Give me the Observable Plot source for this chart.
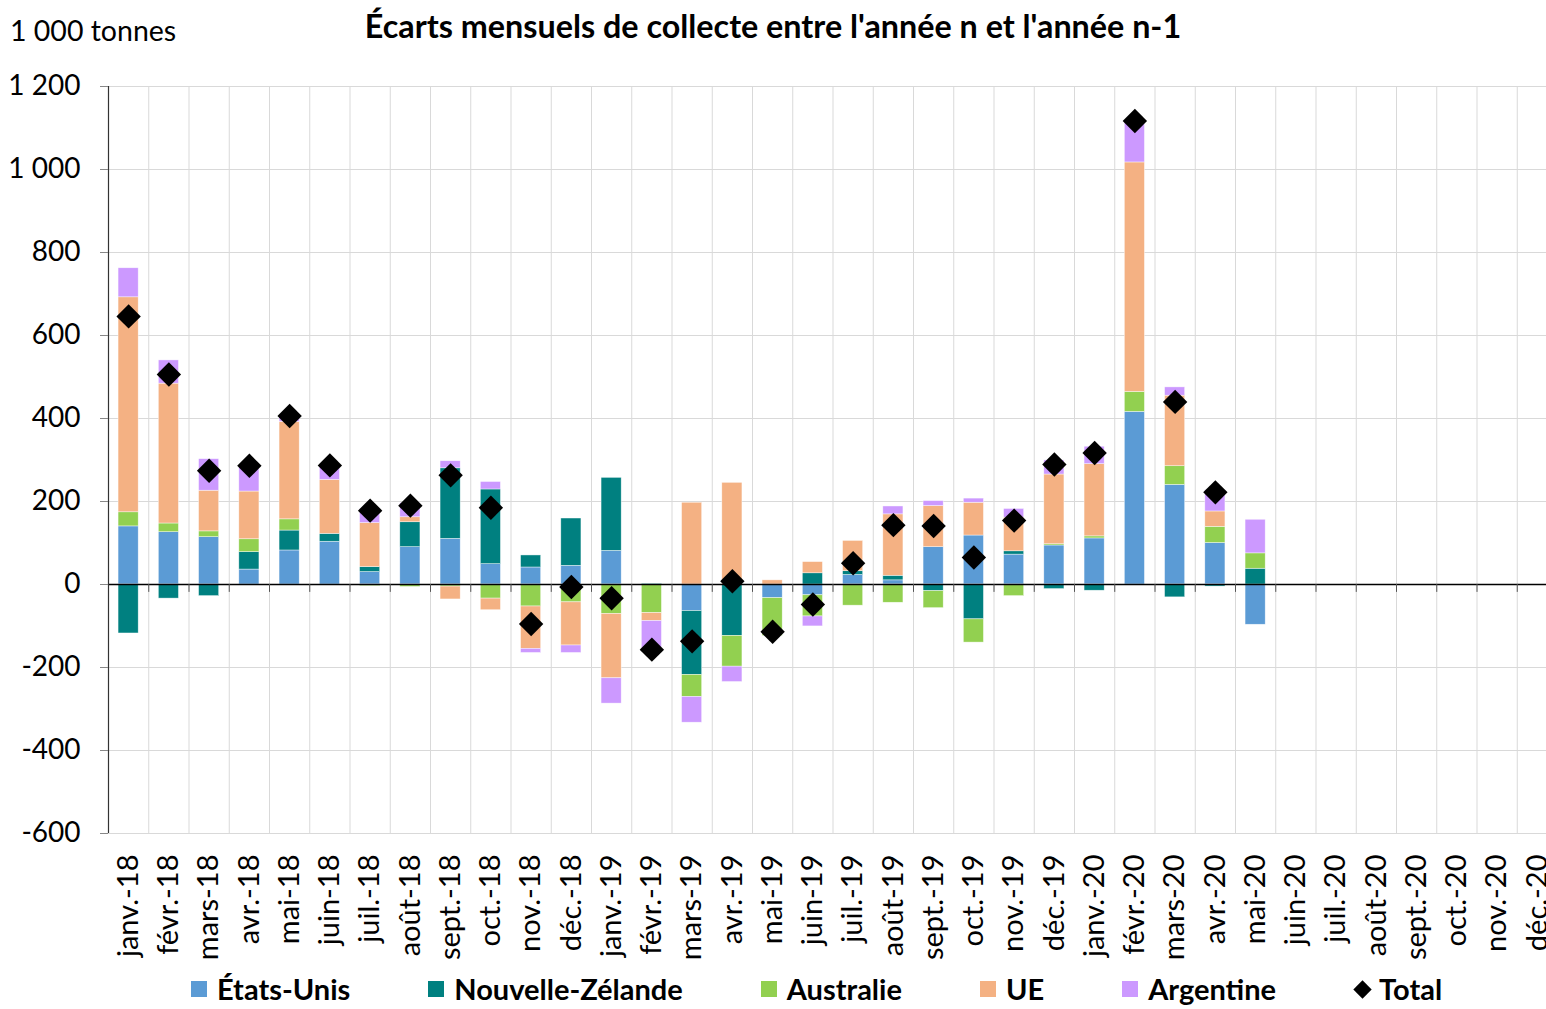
<!DOCTYPE html>
<html><head><meta charset="utf-8">
<script src="https://cdn.jsdelivr.net/npm/d3@7"></script>
<script src="https://cdn.jsdelivr.net/npm/@observablehq/plot@0.6"></script>
<style>
body{margin:0;background:#fff;font-family:Lato,sans-serif;color:#000;}
#wrap{position:relative;width:1546px;height:1009px;overflow:hidden;background:#fff;}
#title{position:absolute;left:0;width:1546px;top:6px;text-align:center;font-weight:bold;font-size:32.3px;line-height:40px;}
#unit{position:absolute;left:10px;top:10px;font-size:28.5px;line-height:40px;}
#chart{position:absolute;left:0;top:60px;}
#legend{position:absolute;left:191px;top:974px;height:30px;display:flex;gap:78px;align-items:center;font-weight:bold;font-size:29px;line-height:30px;white-space:nowrap;}
.item{display:flex;align-items:center;}
.sw{width:16px;height:16px;margin-right:10px;}
.dia{width:13px;height:13px;background:#000;transform:rotate(45deg);margin-right:10px;margin-left:2px;}
</style></head><body>
<div id="wrap">
<div id="unit">1 000 tonnes</div>
<div id="title">Écarts mensuels de collecte entre l'année n et l'année n-1</div>
<div id="chart"></div>
<div id="legend"></div>
</div>
<script>
const months = ["janv.-18","févr.-18","mars-18","avr.-18","mai-18","juin-18","juil.-18","août-18","sept.-18","oct.-18","nov.-18","déc.-18",
"janv.-19","févr.-19","mars-19","avr.-19","mai-19","juin-19","juil.-19","août-19","sept.-19","oct.-19","nov.-19","déc.-19",
"janv.-20","févr.-20","mars-20","avr.-20","mai-20","juin-20","juil.-20","août-20","sept.-20","oct.-20","nov.-20","déc.-20"];
const seriesNames = ["États-Unis","Nouvelle-Zélande","Australie","UE","Argentine"];
const seriesColors = ["#5B9BD5","#008080","#92D050","#F4B183","#CC99FF"];
const etatsUnis = [140,126,114,36,82,103,30,90,110,49,41,45,81,0,-64,0,-33,-26,23,10,90,118,72,94,111,416,240,100,-97];
const nouvelleZelande = [-118,-34,-28,42,48,19,12,60,170,180,29,114,176,2,-154,-124,0,27,9,11,-16,-84,8,-11,-15,0,-31,-5,38];
const australie = [34,21,14,31,27,0,-4,-6,-5,-34,-53,-43,-71,-69,-53,-74,-91,-51,-51,-44,-41,-56,-28,3,5,48,45,39,37];
const ue = [518,337,98,115,235,130,106,12,-31,-28,-102,-104,-155,-19,197,245,10,27,73,148,99,79,81,168,174,553,170,37,0];
const argentine = [70,56,76,62,14,35,34,34,17,18,-10,-18,-61,-71,-62,-37,0,-24,0,19,12,10,21,34,42,100,20,51,81];
const total = [646,506,274,286,406,287,178,190,263,185,-95,-6,-33,-157,-137,8,-114,-48,51,143,141,65,154,289,317,1117,440,222,null];
const yTicks = [-600,-400,-200,0,200,400,600,800,1000,1200];

const seriesValues = [etatsUnis, nouvelleZelande, australie, ue, argentine];
const bars = [];
seriesValues.forEach((vals, s) => vals.forEach((v, i) => {
  if (v !== 0) bars.push({month: months[i], series: seriesNames[s], value: v});
}));
const totals = total.map((v, i) => ({month: months[i], total: v})).filter(d => d.total != null);

const fmt = d => (d < 0 ? "-" : "") + String(Math.abs(d)).replace(/\B(?=(\d{3})+(?!\d))/g, "\u00a0");

const x0 = 108, x1 = 1557;
const step = (x1 - x0) / months.length;

const chart = Plot.plot({
  width: 1546, height: 940,
  marginTop: 26, marginBottom: 167, marginLeft: 108, marginRight: 0,
  style: {fontFamily: "Lato, sans-serif", fontSize: "28px", color: "#000", background: "transparent", overflow: "hidden"},
  x: {domain: months, range: [x0, x1], paddingInner: 0.5, paddingOuter: 0.25, round: false},
  y: {domain: [-600, 1200]},
  color: {domain: seriesNames, range: seriesColors},
  marks: [
    Plot.ruleY(yTicks, {stroke: "#d9d9d9", strokeWidth: 1}),
    Plot.ruleX(months, {x: d => d, dx: -step / 2, stroke: "#d9d9d9", strokeWidth: 1}),
    Plot.barY(bars, {x: "month", y: "value", fill: "series", order: seriesNames, stroke: "#fff", strokeWidth: 0.6, strokeOpacity: 0.7}),
    Plot.ruleY([0], {stroke: "#000", strokeWidth: 1.5}),
    Plot.ruleX(months, {x: d => d, dx: -step / 2, y1: 0, y2: -19, stroke: "#555", strokeWidth: 1}),
    Plot.ruleX([months[0]], {x: d => d, dx: -step / 2, stroke: "#333", strokeWidth: 1.2}),
    Plot.axisY({ticks: yTicks, tickFormat: fmt, tickSize: 8, tickPadding: 20, stroke: "#888", label: null, fontSize: 28}),
    Plot.axisX({tickSize: 0, tickRotate: -90, tickPadding: 21, label: null, fontSize: 29}),
    Plot.dot(totals, {x: "month", y: "total", symbol: "diamond2", r: 11, fill: "#000"})
  ]
});
document.getElementById("chart").appendChild(chart);

const legend = document.getElementById("legend");
seriesNames.forEach((n, i) => {
  const it = document.createElement("div"); it.className = "item";
  const sw = document.createElement("div"); sw.className = "sw"; sw.style.background = seriesColors[i];
  const t = document.createElement("span"); t.textContent = n;
  it.appendChild(sw); it.appendChild(t); legend.appendChild(it);
});
const it = document.createElement("div"); it.className = "item";
const dia = document.createElement("div"); dia.className = "dia";
const t = document.createElement("span"); t.textContent = "Total";
it.appendChild(dia); it.appendChild(t); legend.appendChild(it);
</script>
</body></html>
